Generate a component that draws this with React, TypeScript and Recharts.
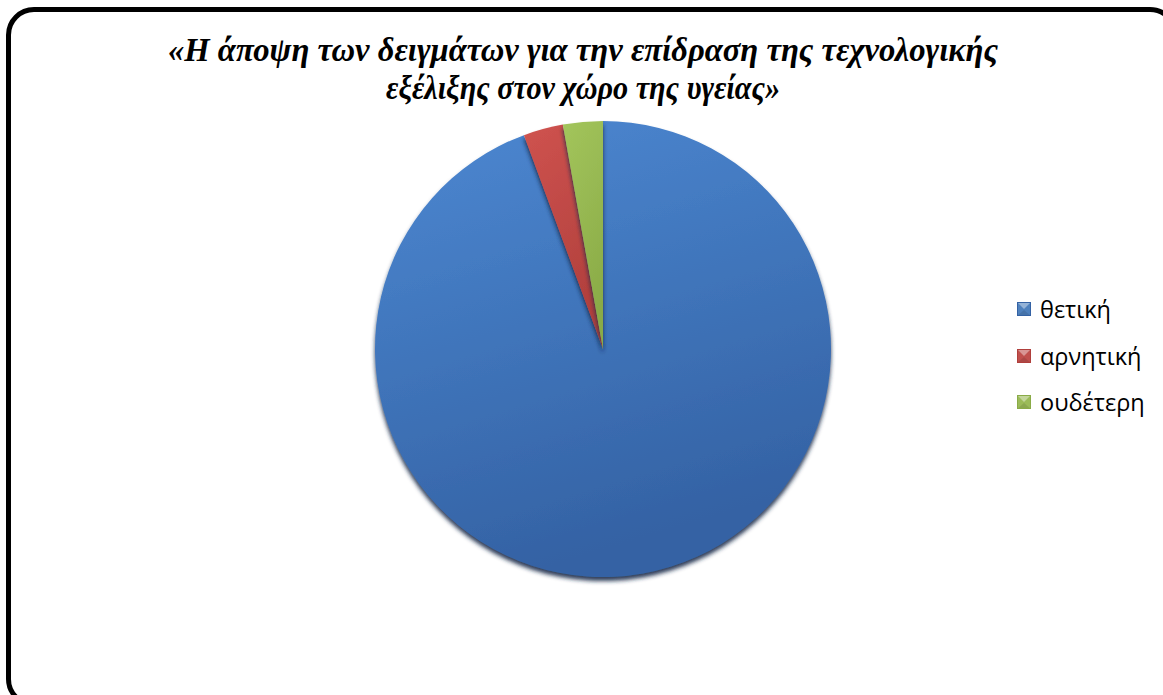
import { PieChart, Pie, Cell, Legend } from "recharts";

const categories = ["θετική", "αρνητική", "ουδέτερη"];
const counts = [67, 2, 2];
const titleLines = [
  "«Η άποψη των δειγμάτων για την επίδραση της τεχνολογικής",
  "εξέλιξης στον χώρο της υγείας»",
];

const colors = [
  { id: "gBlue", light: "#4c88d2", dark: "#3462a4", mark: "#4f81bd" },
  { id: "gRed", light: "#cf534f", dark: "#b03f3c", mark: "#c0504d" },
  { id: "gGreen", light: "#a3c55c", dark: "#8aab47", mark: "#9bbb59" },
];

const data = categories.map((name, i) => ({ name, value: counts[i] }));

const renderLegend = () => (
  <div style={{ fontFamily: "'Open Sans', 'Noto Sans', sans-serif", fontSize: 23.5, color: "#000" }}>
    {categories.map((c, i) => (
      <div key={c} style={{ display: "flex", alignItems: "center", height: 46.5 }}>
        <svg width={14} height={14} style={{ marginRight: 9 }}>
          <rect x={0} y={0} width={14} height={14} fill={colors[i].mark} />
          <polygon points="1,1 13,1 7,7" fill="#ffffff" opacity={0.4} />
          <polygon points="0,14 14,14 7,8" fill="#000000" opacity={0.1} />
          <rect x={0.5} y={0.5} width={13} height={13} fill="none" stroke={colors[i].dark} strokeWidth={1} />
        </svg>
        <span>{c}</span>
      </div>
    ))}
  </div>
);

export default function App() {
  return (
    <div style={{ position: "fixed", left: 0, top: 0, width: 1163, height: 695, overflow: "hidden", background: "#fff" }}>
      <div
        style={{
          position: "absolute",
          left: 6,
          top: 7,
          width: 1172,
          height: 700,
          border: "5px solid #000",
          borderRadius: 28,
          boxSizing: "border-box",
        }}
      />
      <svg width={1163} height={120} style={{ position: "absolute", left: 0, top: 0 }}>
        {titleLines.map((t, i) => (
          <text
            key={i}
            x={583}
            y={61 + i * 38}
            textAnchor="middle"
            fontFamily="'Liberation Serif', 'Times New Roman', serif"
            fontStyle="italic"
            fontWeight="bold"
            fontSize={33}
            textLength={i === 0 ? 830 : 394}
            lengthAdjust="spacingAndGlyphs"
          >
            {t}
          </text>
        ))}
      </svg>
      <div style={{ position: "absolute", left: 0, top: 0 }}>
        <PieChart width={1163} height={695}>
          <defs>
            {colors.map((c) => (
              <linearGradient key={c.id} id={c.id} x1="0" y1="0" x2="0.3" y2="1">
                <stop offset="0%" stopColor={c.light} />
                <stop offset="100%" stopColor={c.dark} />
              </linearGradient>
            ))}
            <filter id="pieShadow" x="-10%" y="-10%" width="120%" height="120%">
              <feDropShadow dx="0" dy="4" stdDeviation="2" floodColor="#13284a" floodOpacity="0.9" />
            </filter>
          </defs>
          <Pie
            data={data}
            dataKey="value"
            nameKey="name"
            cx={598}
            cy={344}
            outerRadius={228}
            startAngle={90}
            endAngle={-270}
            stroke="none"
            isAnimationActive={false}
            style={{ filter: "url(#pieShadow)" }}
          >
            {data.map((d, i) => (
              <Cell key={d.name} fill={`url(#${colors[i].id})`} />
            ))}
          </Pie>
          <Legend
            layout="vertical"
            align="right"
            verticalAlign="top"
            wrapperStyle={{ left: 1017, top: 286, width: 146 }}
            content={renderLegend}
          />
        </PieChart>
      </div>
    </div>
  );
}
